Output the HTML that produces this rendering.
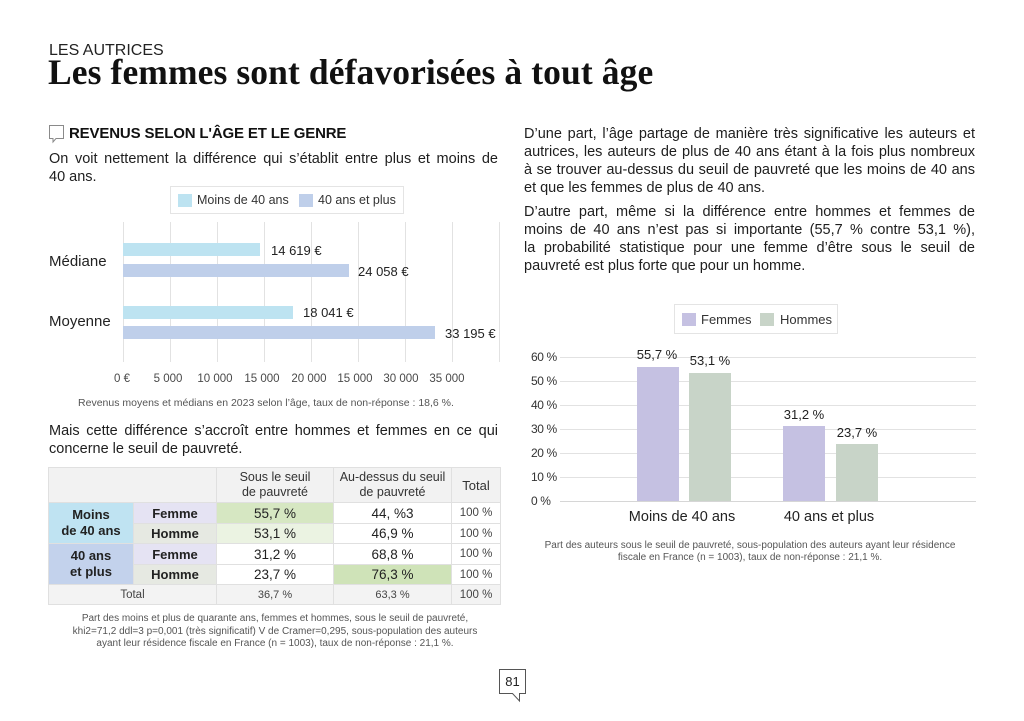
<!DOCTYPE html>
<html><head><meta charset="utf-8">
<style>
html,body{margin:0;padding:0;background:#fff;}
body{width:1024px;height:721px;position:relative;overflow:hidden;font-family:"Liberation Sans",Arial,sans-serif;color:#1e1e1e;}
.t{position:absolute;white-space:nowrap;line-height:1;}
.j{position:absolute;white-space:nowrap;line-height:1;text-align:justify;text-align-last:justify;}
.gl{position:absolute;background:#e2e2e2;}
.bar{position:absolute;}
table.tb{position:absolute;left:48px;top:467px;width:452px;border-collapse:collapse;table-layout:fixed;font-family:"Liberation Sans",Arial,sans-serif;}
table.tb td{border:1px solid #e0e0e0;text-align:center;padding:0;color:#222;}
.cap{position:absolute;text-align:center;font-size:10px;line-height:12.5px;color:#555;white-space:nowrap;}
</style></head><body>

<div class="t" style="left:49px;top:43px;font-size:16px;color:#222;">LES AUTRICES</div>
<div class="t" style="left:48px;top:55px;font-family:'Liberation Serif',serif;font-weight:bold;font-size:35.5px;letter-spacing:0.1px;color:#111;">Les femmes sont défavorisées à tout âge</div>

<svg style="position:absolute;left:0;top:0" width="1024" height="721">
  <path d="M49.5,125.5 H63.5 V138.5 H56 L53,142 L53,138.5 H49.5 Z" fill="none" stroke="#8a8a8a" stroke-width="1"/>
  <path d="M499.5,669.5 H525.5 V693.5 H519.5 V701 L512.5,693.5 H499.5 Z" fill="#fff" stroke="#555" stroke-width="1"/>
</svg>
<div class="t" style="left:499px;top:675px;width:27px;text-align:center;font-size:13px;color:#222;">81</div>

<div class="t" style="left:69px;top:125.5px;font-size:15px;font-weight:bold;letter-spacing:-0.15px;color:#111;">REVENUS SELON L'ÂGE ET LE GENRE</div>

<div class="j" style="left:49px;top:152px;width:449px;font-size:14.5px;">On voit nettement la différence qui s’établit entre plus et moins de</div>
<div class="t" style="left:49px;top:170px;font-size:14.5px;">40 ans.</div>

<!-- left legend -->
<div style="position:absolute;left:170px;top:186px;width:234px;height:28px;border:1px solid #e4e4e4;box-sizing:border-box;"></div>
<div class="bar" style="left:178px;top:194px;width:14px;height:13px;background:#bde3f1;"></div>
<div class="t" style="left:197px;top:193.5px;font-size:12.5px;color:#333;">Moins de 40 ans</div>
<div class="bar" style="left:299px;top:194px;width:14px;height:13px;background:#bfcfea;"></div>
<div class="t" style="left:318px;top:193.5px;font-size:12.5px;color:#333;">40 ans et plus</div>

<!-- left chart grid -->
<div class="gl" style="left:123px;top:222px;width:1px;height:140px;"></div>
<div class="gl" style="left:170px;top:222px;width:1px;height:140px;"></div>
<div class="gl" style="left:217px;top:222px;width:1px;height:140px;"></div>
<div class="gl" style="left:264px;top:222px;width:1px;height:140px;"></div>
<div class="gl" style="left:311px;top:222px;width:1px;height:140px;"></div>
<div class="gl" style="left:358px;top:222px;width:1px;height:140px;"></div>
<div class="gl" style="left:405px;top:222px;width:1px;height:140px;"></div>
<div class="gl" style="left:452px;top:222px;width:1px;height:140px;"></div>
<div class="gl" style="left:499px;top:222px;width:1px;height:140px;"></div>

<div class="bar" style="left:123px;top:243px;width:137px;height:13px;background:#bde3f1;"></div>
<div class="bar" style="left:123px;top:264px;width:226px;height:13px;background:#bfcfea;"></div>
<div class="bar" style="left:123px;top:306px;width:170px;height:13px;background:#bde3f1;"></div>
<div class="bar" style="left:123px;top:326px;width:312px;height:13px;background:#bfcfea;"></div>

<div class="t" style="left:271px;top:243.5px;font-size:13px;color:#222;">14 619 €</div>
<div class="t" style="left:358px;top:265px;font-size:13px;color:#222;">24 058 €</div>
<div class="t" style="left:303px;top:306px;font-size:13px;color:#222;">18 041 €</div>
<div class="t" style="left:445px;top:326.5px;font-size:13px;color:#222;">33 195 €</div>

<div class="t" style="left:49px;top:254px;font-size:15px;color:#222;">Médiane</div>
<div class="t" style="left:49px;top:314px;font-size:15px;color:#222;">Moyenne</div>

<div class="t" style="left:92px;top:374px;width:60px;text-align:center;font-size:11.5px;color:#4a4a4a;">0 €</div>
<div class="t" style="left:138px;top:374px;width:60px;text-align:center;font-size:11.5px;color:#4a4a4a;">5 000</div>
<div class="t" style="left:185px;top:374px;width:60px;text-align:center;font-size:11.5px;color:#4a4a4a;">10 000</div>
<div class="t" style="left:232px;top:374px;width:60px;text-align:center;font-size:11.5px;color:#4a4a4a;">15 000</div>
<div class="t" style="left:279px;top:374px;width:60px;text-align:center;font-size:11.5px;color:#4a4a4a;">20 000</div>
<div class="t" style="left:325px;top:374px;width:60px;text-align:center;font-size:11.5px;color:#4a4a4a;">15 000</div>
<div class="t" style="left:371px;top:374px;width:60px;text-align:center;font-size:11.5px;color:#4a4a4a;">30 000</div>
<div class="t" style="left:417px;top:374px;width:60px;text-align:center;font-size:11.5px;color:#4a4a4a;">35 000</div>

<div class="cap" style="left:66px;top:397px;width:400px;font-size:10.5px;">Revenus moyens et médians en 2023 selon l’âge, taux de non-réponse : 18,6 %.</div>

<div class="j" style="left:49px;top:424px;width:449px;font-size:14.5px;">Mais cette différence s’accroît entre hommes et femmes en ce qui</div>
<div class="t" style="left:49px;top:441.5px;font-size:14.5px;">concerne le seuil de pauvreté.</div>

<!-- table -->
<table class="tb">
<colgroup><col style="width:85px"><col style="width:83px"><col style="width:117px"><col style="width:118px"><col style="width:49px"></colgroup>
<tr style="height:35px;background:#f2f2f2;">
  <td colspan="2"></td>
  <td style="font-size:12.5px;line-height:15px;color:#333;">Sous le seuil<br>de pauvreté</td>
  <td style="font-size:12.5px;line-height:15px;color:#333;">Au-dessus du seuil<br>de pauvreté</td>
  <td style="font-size:13px;color:#333;">Total</td>
</tr>
<tr style="height:21px;">
  <td rowspan="2" style="background:#bfe3f2;font-weight:bold;font-size:13px;line-height:16px;">Moins<br>de 40 ans</td>
  <td style="background:#e5e3f3;font-weight:bold;font-size:13px;">Femme</td>
  <td style="background:#d6e7c2;font-size:13.5px;">55,7 %</td>
  <td style="font-size:13.5px;">44, %3</td>
  <td style="font-size:11.5px;color:#444;">100 %</td>
</tr>
<tr style="height:20px;">
  <td style="background:#e6e9e2;font-weight:bold;font-size:13px;">Homme</td>
  <td style="background:#ebf3e2;font-size:13.5px;">53,1 %</td>
  <td style="font-size:13.5px;">46,9 %</td>
  <td style="font-size:11.5px;color:#444;">100 %</td>
</tr>
<tr style="height:21px;">
  <td rowspan="2" style="background:#c3d2ec;font-weight:bold;font-size:13px;line-height:16px;">40 ans<br>et plus</td>
  <td style="background:#e5e3f3;font-weight:bold;font-size:13px;">Femme</td>
  <td style="font-size:13.5px;">31,2 %</td>
  <td style="font-size:13.5px;">68,8 %</td>
  <td style="font-size:11.5px;color:#444;">100 %</td>
</tr>
<tr style="height:20px;">
  <td style="background:#e6e9e2;font-weight:bold;font-size:13px;">Homme</td>
  <td style="font-size:13.5px;">23,7 %</td>
  <td style="background:#cfe3b8;font-size:13.5px;">76,3 %</td>
  <td style="font-size:11.5px;color:#444;">100 %</td>
</tr>
<tr style="height:20px;background:#f3f3f3;">
  <td colspan="2" style="font-size:11.5px;color:#444;">Total</td>
  <td style="font-size:11px;color:#444;">36,7 %</td>
  <td style="font-size:11px;color:#444;">63,3 %</td>
  <td style="font-size:11.5px;color:#444;">100 %</td>
</tr>
</table>

<div class="cap" style="left:45px;top:613px;width:460px;">Part des moins et plus de quarante ans, femmes et hommes, sous le seuil de pauvreté,<br>khi2=71,2 ddl=3 p=0,001 (très significatif) V de Cramer=0,295, sous-population des auteurs<br>ayant leur résidence fiscale en France (n = 1003), taux de non-réponse : 21,1 %.</div>

<!-- right text -->
<div class="j" style="left:524px;top:126.7px;width:451px;font-size:14.5px;">D’une part, l’âge partage de manière très significative les auteurs et</div>
<div class="j" style="left:524px;top:144.7px;width:451px;font-size:14.5px;">autrices, les auteurs de plus de 40 ans étant à la fois plus nombreux</div>
<div class="j" style="left:524px;top:162.7px;width:451px;font-size:14.5px;">à se trouver au-dessus du seuil de pauvreté que les moins de 40 ans</div>
<div class="t" style="left:524px;top:180.7px;font-size:14.5px;">et que les femmes de plus de 40 ans.</div>

<div class="j" style="left:524px;top:204.7px;width:451px;font-size:14.5px;">D’autre part, même si la différence entre hommes et femmes de</div>
<div class="j" style="left:524px;top:222.7px;width:451px;font-size:14.5px;">moins de 40 ans n’est pas si importante (55,7 % contre 53,1 %),</div>
<div class="j" style="left:524px;top:240.7px;width:451px;font-size:14.5px;">la probabilité statistique pour une femme d’être sous le seuil de</div>
<div class="t" style="left:524px;top:258.7px;font-size:14.5px;">pauvreté est plus forte que pour un homme.</div>

<!-- right legend -->
<div style="position:absolute;left:674px;top:304px;width:164px;height:30px;border:1px solid #e4e4e4;box-sizing:border-box;"></div>
<div class="bar" style="left:682px;top:313px;width:14px;height:13px;background:#c5c1e2;"></div>
<div class="t" style="left:701px;top:313px;font-size:13px;color:#333;">Femmes</div>
<div class="bar" style="left:760px;top:313px;width:14px;height:13px;background:#c8d4c8;"></div>
<div class="t" style="left:780px;top:313px;font-size:13px;color:#333;">Hommes</div>

<!-- right chart grid -->
<div class="gl" style="left:560px;top:357px;width:416px;height:1px;"></div>
<div class="gl" style="left:560px;top:381px;width:416px;height:1px;"></div>
<div class="gl" style="left:560px;top:405px;width:416px;height:1px;"></div>
<div class="gl" style="left:560px;top:429px;width:416px;height:1px;"></div>
<div class="gl" style="left:560px;top:453px;width:416px;height:1px;"></div>
<div class="gl" style="left:560px;top:477px;width:416px;height:1px;"></div>
<div class="gl" style="left:560px;top:501px;width:416px;height:1px;background:#d6d6d6;"></div>

<div class="t" style="left:531px;top:351px;font-size:12px;letter-spacing:-0.4px;color:#333;">60 %</div>
<div class="t" style="left:531px;top:375px;font-size:12px;letter-spacing:-0.4px;color:#333;">50 %</div>
<div class="t" style="left:531px;top:399px;font-size:12px;letter-spacing:-0.4px;color:#333;">40 %</div>
<div class="t" style="left:531px;top:423px;font-size:12px;letter-spacing:-0.4px;color:#333;">30 %</div>
<div class="t" style="left:531px;top:447px;font-size:12px;letter-spacing:-0.4px;color:#333;">20 %</div>
<div class="t" style="left:531px;top:471px;font-size:12px;letter-spacing:-0.4px;color:#333;">10 %</div>
<div class="t" style="left:531px;top:495px;font-size:12px;letter-spacing:-0.4px;color:#333;">0 %</div>

<div class="bar" style="left:637px;top:367px;width:42px;height:134px;background:#c5c1e2;"></div>
<div class="bar" style="left:689px;top:373px;width:42px;height:128px;background:#c8d4c8;"></div>
<div class="bar" style="left:783px;top:426px;width:42px;height:75px;background:#c5c1e2;"></div>
<div class="bar" style="left:836px;top:444px;width:42px;height:57px;background:#c8d4c8;"></div>

<div class="t" style="left:627px;top:348px;width:60px;text-align:center;font-size:13px;color:#222;">55,7 %</div>
<div class="t" style="left:680px;top:354px;width:60px;text-align:center;font-size:13px;color:#222;">53,1 %</div>
<div class="t" style="left:774px;top:408px;width:60px;text-align:center;font-size:13px;color:#222;">31,2 %</div>
<div class="t" style="left:827px;top:426px;width:60px;text-align:center;font-size:13px;color:#222;">23,7 %</div>

<div class="t" style="left:622px;top:510px;width:120px;text-align:center;font-size:14.5px;color:#222;">Moins de 40 ans</div>
<div class="t" style="left:769px;top:510px;width:120px;text-align:center;font-size:14.5px;color:#222;">40 ans et plus</div>

<div class="cap" style="left:520px;top:539.5px;width:460px;">Part des auteurs sous le seuil de pauvreté, sous-population des auteurs ayant leur résidence<br>fiscale en France (n = 1003), taux de non-réponse : 21,1 %.</div>

</body></html>
